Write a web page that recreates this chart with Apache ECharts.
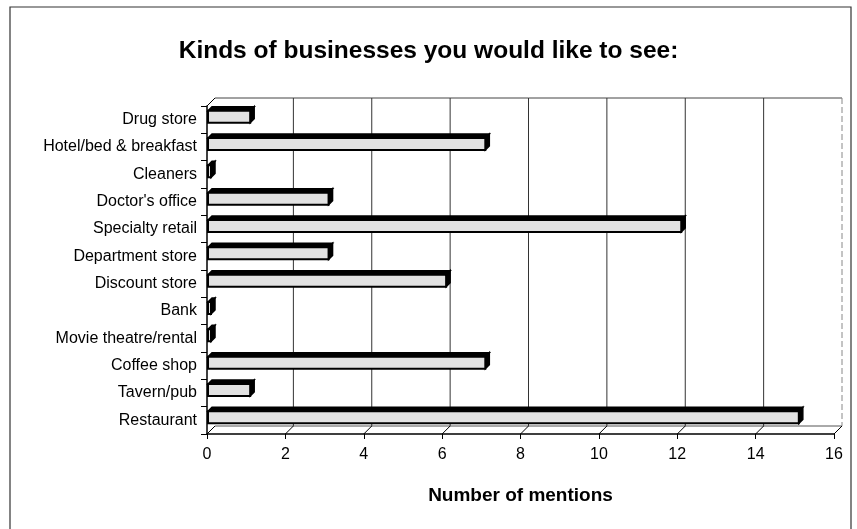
<!DOCTYPE html>
<html>
<head>
<meta charset="utf-8">
<script src="https://cdn.jsdelivr.net/npm/echarts@6/dist/echarts.min.js"></script>
<style>
  html, body { margin: 0; padding: 0; background: #fff; }
  #chart { width: 857px; height: 529px; }
</style>
</head>
<body>
<div id="chart"></div>
<script>
// Survey answers: kinds of businesses residents would like to see
const categories = [
  'Drug store', 'Hotel/bed & breakfast', 'Cleaners', "Doctor's office",
  'Specialty retail', 'Department store', 'Discount store', 'Bank',
  'Movie theatre/rental', 'Coffee shop', 'Tavern/pub', 'Restaurant'
];
const mentions = [1, 7, 0, 3, 12, 3, 6, 0, 0, 7, 1, 15];
const axisTicks = [0, 2, 4, 6, 8, 10, 12, 14, 16];

// Depth of the pseudo-3D box (pixels)
const DEPTH_X = 8, DEPTH_Y = 8;
const BAR_SHIFT = 4;   // bars sit half way into the box
const FONT = 'Liberation Sans, Arial, sans-serif';

const chart = echarts.init(document.getElementById('chart'), null, { renderer: 'canvas' });

function barItem(params, api) {
  const v = api.value(0), cat = api.value(1);
  const base = api.coord([0, cat]);
  const end = api.coord([v, cat]);
  const c = base[1];
  const yTop = c - 9, yBot = c + 3;
  const xL = base[0] + 1;
  const xR = Math.max(end[0] + BAR_SHIFT, xL);
  const d = 4;
  return {
    type: 'group',
    children: [
      { // top face
        type: 'polygon',
        shape: { points: [[xL, yTop], [xL + d, yTop - d], [xR + d, yTop - d], [xR, yTop]] },
        style: { fill: '#000', stroke: '#000', lineWidth: 1.5 }
      },
      { // side face
        type: 'polygon',
        shape: { points: [[xR, yTop], [xR + d, yTop - d], [xR + d, yBot - d], [xR, yBot]] },
        style: { fill: '#000', stroke: '#000', lineWidth: 1.5 }
      },
      { // front face
        type: 'rect',
        shape: { x: xL, y: yTop, width: xR - xL, height: yBot - yTop },
        style: { fill: '#e2e2e2', stroke: '#000', lineWidth: 2 }
      }
    ]
  };
}

function wallItem(params, api) {
  const v = api.value(0);
  const cs = params.coordSys;
  const front = api.coord([v, 0]);
  const x = front[0];
  const yFloor = cs.y + cs.height;
  const yTopBack = cs.y - DEPTH_Y;
  const children = [];
  // slanted floor tick
  children.push({
    type: 'line',
    shape: { x1: x, y1: yFloor, x2: x + DEPTH_X, y2: yFloor - DEPTH_Y },
    style: { stroke: '#000', lineWidth: 1 }
  });
  if (v > 0 && v < 16) {
    children.push({
      type: 'line',
      shape: { x1: x + DEPTH_X, y1: yTopBack, x2: x + DEPTH_X, y2: yFloor - DEPTH_Y },
      style: { stroke: '#333', lineWidth: 1 }
    });
  }
  if (v === 16) {
    children.push({
      type: 'line',
      shape: { x1: x + DEPTH_X, y1: yTopBack, x2: x + DEPTH_X, y2: yFloor - DEPTH_Y },
      style: { stroke: '#888', lineWidth: 1, lineDash: [6, 3] }
    });
  }
  if (v === 0) {
    const right = cs.x + cs.width;
    children.push(
      { // back wall top edge
        type: 'line',
        shape: { x1: x + DEPTH_X, y1: yTopBack, x2: right + DEPTH_X, y2: yTopBack },
        style: { stroke: '#444', lineWidth: 1 }
      },
      { // left wall top edge
        type: 'line',
        shape: { x1: x, y1: cs.y, x2: x + DEPTH_X, y2: yTopBack },
        style: { stroke: '#000', lineWidth: 1 }
      },
      { // floor back edge
        type: 'line',
        shape: { x1: x + DEPTH_X, y1: yFloor - DEPTH_Y, x2: right + DEPTH_X, y2: yFloor - DEPTH_Y },
        style: { stroke: '#555', lineWidth: 1 }
      }
    );
  }
  return { type: 'group', children };
}

chart.setOption({
  animation: false,
  backgroundColor: '#fff',
  textStyle: { fontFamily: FONT },
  title: {
    text: 'Kinds of businesses you would like to see:',
    left: 'center',
    top: 34,
    textStyle: { fontSize: 24.5, fontWeight: 'bold', color: '#000', fontFamily: FONT }
  },
  graphic: [
    {
      type: 'rect',
      shape: { x: 10, y: 7, width: 841, height: 540 },
      style: { fill: 'none', stroke: '#333', lineWidth: 1.2 },
      silent: true
    }
  ],
  grid: { left: 207, right: 23, top: 106, bottom: 95, containLabel: false },
  xAxis: {
    type: 'value',
    min: 0, max: 16, interval: 2,
    name: 'Number of mentions',
    nameLocation: 'middle',
    nameGap: 52,
    nameTextStyle: { fontSize: 19, fontWeight: 'bold', color: '#000' },
    axisLine: { show: true, lineStyle: { color: '#000', width: 1.5 } },
    axisTick: { show: true, length: 5, lineStyle: { color: '#000' } },
    axisLabel: { fontSize: 16, color: '#000', margin: 13 },
    splitLine: { show: false }
  },
  yAxis: {
    type: 'category',
    data: categories,
    inverse: true,
    axisLine: { show: true, lineStyle: { color: '#000', width: 1.5 } },
    axisTick: { show: true, length: 6, lineStyle: { color: '#000' } },
    axisLabel: { fontSize: 16, color: '#000', margin: 10 },
    splitLine: { show: false }
  },
  series: [
    {
      type: 'custom',
      renderItem: wallItem,
      data: axisTicks.map(v => [v]),
      encode: { x: 0 },
      silent: true,
      z: 1
    },
    {
      type: 'custom',
      renderItem: barItem,
      data: mentions.map((v, i) => [v, i]),
      encode: { x: 0, y: 1 },
      z: 2
    }
  ]
});
</script>
</body>
</html>
